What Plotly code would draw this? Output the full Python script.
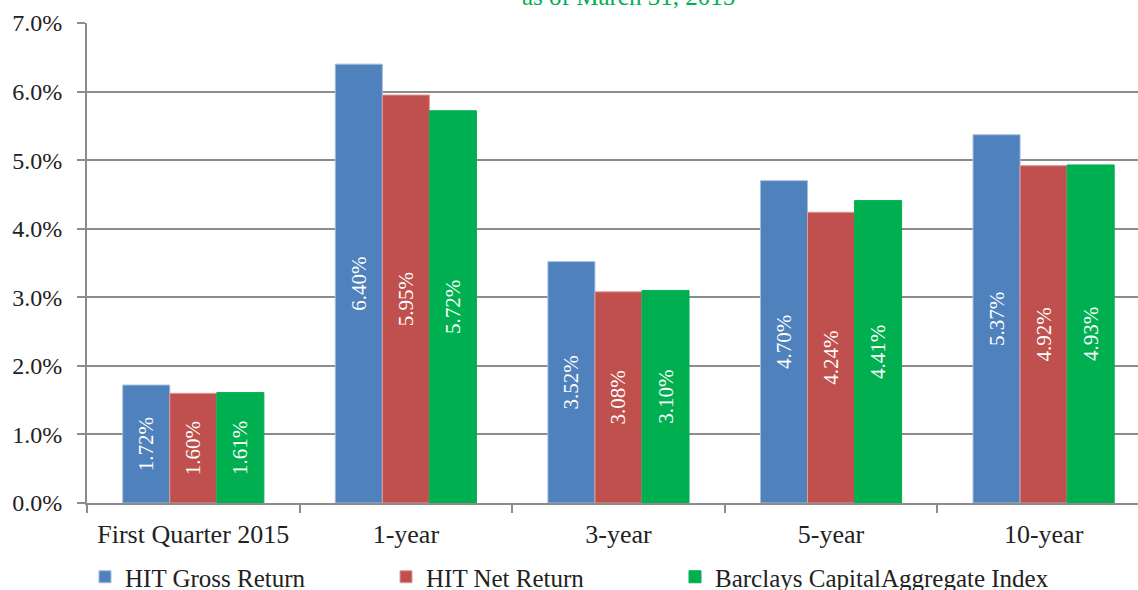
import plotly.graph_objects as go

categories = ["First Quarter 2015", "1-year", "3-year", "5-year", "10-year"]
gross = [1.72, 6.40, 3.52, 4.70, 5.37]
net = [1.60, 5.95, 3.08, 4.24, 4.92]
barclays = [1.61, 5.72, 3.10, 4.41, 4.93]
series_names = ["HIT Gross Return", "HIT Net Return", "Barclays CapitalAggregate Index"]
series_colors = ["#4F81BD", "#C0504D", "#00B050"]
series_edges = ["#A3BCE0", "#E39A98", "#00B050"]
title_text = "as of March 31, 2015"
y_ticks = [0, 1, 2, 3, 4, 5, 6, 7]

FONT = "Liberation Serif"
GRID = "#8C8C8C"
legend_ids = ["legend", "legend2", "legend3"]
legend_x = [85, 386, 675]

fig = go.Figure()
for name, vals, col, edge, lg in zip(series_names, [gross, net, barclays],
                                     series_colors, series_edges, legend_ids):
    fig.add_trace(go.Bar(
        x=categories, y=vals, name=name, legend=lg, showlegend=True,
        marker=dict(color=col, line=dict(width=1, color=edge)),
        text=[f"{v:.2f}%" for v in vals],
        textposition="inside", insidetextanchor="middle", textangle=-90,
        textfont=dict(family=FONT, size=21, color="white"),
        cliponaxis=False,
    ))

fig.add_annotation(
    text=title_text, xref="paper", yref="paper",
    x=(628 - 87) / 1051, y=1 + 27 / 480, xanchor="center", yanchor="middle",
    showarrow=False, font=dict(family=FONT, size=25, color="#00B050"),
)

legends = {}
for lg, lx in zip(legend_ids, legend_x):
    legends[lg] = dict(orientation="h", xref="container", yref="container",
                       x=lx / 1138, xanchor="left", y=1 - 577 / 590, yanchor="middle",
                       font=dict(family=FONT, size=25, color="#222222"),
                       bgcolor="rgba(0,0,0,0)")

fig.update_layout(
    width=1138, height=590, showlegend=True,
    margin=dict(l=87, r=0, t=23, b=87, autoexpand=False),
    paper_bgcolor="white", plot_bgcolor="white",
    barmode="group", bargap=0.336, bargroupgap=0,
    font=dict(family=FONT, color="#222222"),
    **legends,
)
fig.update_xaxes(
    range=[-0.5, 4.444], type="category", tickson="boundaries",
    ticks="outside", ticklen=8, tickwidth=2, tickcolor=GRID,
    showline=True, linecolor=GRID, linewidth=2,
    tickfont=dict(family=FONT, size=26, color="#222222"),
    ticklabelstandoff=7,
    showgrid=False,
)
fig.update_yaxes(
    range=[0, 7], tickvals=y_ticks, ticktext=[f"{v:.1f}%" for v in y_ticks],
    ticks="outside", ticklen=8, tickwidth=2, tickcolor=GRID,
    showline=True, linecolor=GRID, linewidth=2,
    showgrid=True, gridcolor=GRID, gridwidth=2,
    zeroline=False, ticklabelstandoff=10,
    tickfont=dict(family=FONT, size=24, color="#222222"),
)

fig.write_html("out.html", config={"displayModeBar": False},
               post_script="document.body.style.margin='0';document.body.style.overflow='hidden';")
